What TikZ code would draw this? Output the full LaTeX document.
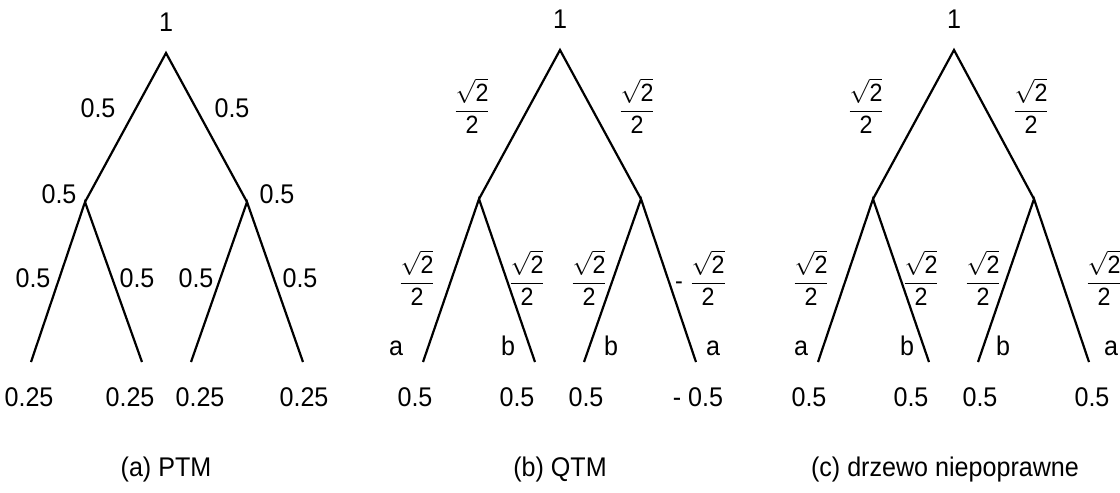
\documentclass[tikz,border=0pt]{standalone}
\usepackage{amsmath}
\usepackage{fontspec}
\setmainfont{Liberation Sans}[FakeStretch=0.93]

\newcommand{\sqhalf}{$\dfrac{\sqrt{\text{2}}}{\text{2}}$}

\begin{document}
\begin{tikzpicture}[x=0.5pt, y=-0.5pt, line width=1.1pt, line join=miter,
    every node/.style={font=\fontsize{13.5}{15}\selectfont, inner sep=0pt},
    frac/.style={font=\fontsize{12.5}{14}\selectfont},
    leaf/.style={anchor=base}]
  \useasboundingbox (0,0) rectangle (1120,493);

  % (a) PTM
  \coordinate (a0) at (166,53);
  \coordinate (a1) at (85,202);
  \coordinate (a2) at (247,202);
  \coordinate (a11) at (31,362);
  \coordinate (a12) at (142,362);
  \coordinate (a21) at (191,362);
  \coordinate (a22) at (303,362);
  \draw (a1) -- (a0) -- (a2);
  \draw (a11) -- (a1) -- (a12);
  \draw (a21) -- (a2) -- (a22);
  \node (a0v) at (166,22) {1};
  \node (a1e) at (98,108) {0.5};
  \node (a2e) at (232,108) {0.5};
  \node (a1v) at (59,194) {0.5};
  \node (a2v) at (277,194) {0.5};
  \node (a11e) at (33,278) {0.5};
  \node (a12e) at (137,278) {0.5};
  \node (a21e) at (196,278) {0.5};
  \node (a22e) at (300,278) {0.5};
  \node[leaf] (a11v) at (29,406) {0.25};
  \node[leaf] (a12v) at (130,406) {0.25};
  \node[leaf] (a21v) at (200,406) {0.25};
  \node[leaf] (a22v) at (304,406) {0.25};
  \node[leaf] (acap) at (166,476) {(a) PTM};

  % (b) QTM
  \coordinate (b0) at (560,50);
  \coordinate (b1) at (479,199);
  \coordinate (b2) at (641,199);
  \coordinate (b11) at (423,362);
  \coordinate (b12) at (535,362);
  \coordinate (b21) at (584,362);
  \coordinate (b22) at (696,362);
  \draw (b1) -- (b0) -- (b2);
  \draw (b11) -- (b1) -- (b12);
  \draw (b21) -- (b2) -- (b22);
  \node (b0v) at (560,19) {1};
  \node[frac] (b1e) at (472,106) {\sqhalf};
  \node[frac] (b2e) at (637,106) {\sqhalf};
  \node[frac] (b11e) at (417,278) {\sqhalf};
  \node[frac] (b12e) at (527,278) {\sqhalf};
  \node[frac] (b21e) at (589,278) {\sqhalf};
  \node[frac] (b22e) at (701,278) {- \sqhalf};
  \node[leaf] (b11l) at (396,355) {a};
  \node[leaf] (b12l) at (508,355) {b};
  \node[leaf] (b21l) at (611,355) {b};
  \node[leaf] (b22l) at (713,355) {a};
  \node[leaf] (b11v) at (415,406) {0.5};
  \node[leaf] (b12v) at (517,406) {0.5};
  \node[leaf] (b21v) at (586,406) {0.5};
  \node[leaf] (b22v) at (698,406) {- 0.5};
  \node[leaf] (bcap) at (560,476) {(b) QTM};

  % (c) drzewo niepoprawne
  \coordinate (c0) at (954,50);
  \coordinate (c1) at (873,199);
  \coordinate (c2) at (1034,199);
  \coordinate (c11) at (818,362);
  \coordinate (c12) at (929,362);
  \coordinate (c21) at (978,362);
  \coordinate (c22) at (1089,362);
  \draw (c1) -- (c0) -- (c2);
  \draw (c11) -- (c1) -- (c12);
  \draw (c21) -- (c2) -- (c22);
  \node (c0v) at (954,19) {1};
  \node[frac] (c1e) at (866,106) {\sqhalf};
  \node[frac] (c2e) at (1031,106) {\sqhalf};
  \node[frac] (c11e) at (811,278) {\sqhalf};
  \node[frac] (c12e) at (921,278) {\sqhalf};
  \node[frac] (c21e) at (983,278) {\sqhalf};
  \node[frac] (c22e) at (1104,278) {\sqhalf};
  \node[leaf] (c11l) at (801,355) {a};
  \node[leaf] (c12l) at (907,355) {b};
  \node[leaf] (c21l) at (1003,355) {b};
  \node[leaf] (c22l) at (1111,355) {a};
  \node[leaf] (c11v) at (809,406) {0.5};
  \node[leaf] (c12v) at (911,406) {0.5};
  \node[leaf] (c21v) at (980,406) {0.5};
  \node[leaf] (c22v) at (1092,406) {0.5};
  \node[leaf] (ccap) at (945,476) {(c) drzewo niepoprawne};
\end{tikzpicture}
\end{document}
